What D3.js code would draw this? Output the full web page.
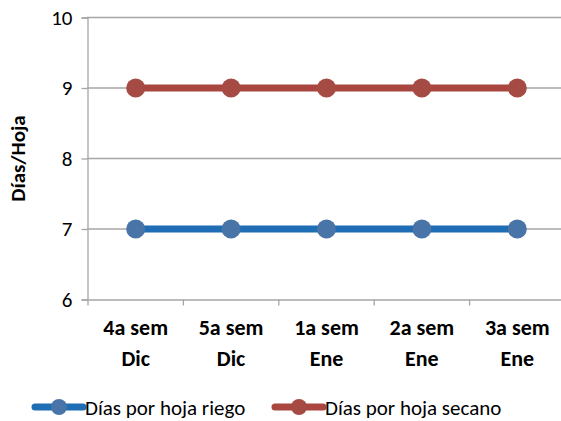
<!DOCTYPE html>
<html><head><meta charset="utf-8">
<script src="https://cdn.jsdelivr.net/npm/d3@7/dist/d3.min.js"></script>
<style>
html,body{margin:0;padding:0;background:#fff;overflow:hidden}
svg{display:block;font-family:Carlito,Calibri,Lato,sans-serif}
</style></head><body>
<svg id="c" width="561" height="421"></svg>
<script>
const categories = [["4a sem","Dic"],["5a sem","Dic"],["1a sem","Ene"],["2a sem","Ene"],["3a sem","Ene"]];
const riego = [7,7,7,7,7];
const secano = [9,9,9,9,9];
const yTicks = [6,7,8,9,10];
const seriesNames = ["Días por hoja riego","Días por hoja secano"];
const yTitle = "Días/Hoja";

const svg = d3.select("#c");
const keys = categories.map(c => c.join(" "));
const x = d3.scaleBand().domain(keys).range([88, 565]);
const y = d3.scaleLinear().domain([6,10]).range([299.5, 17.5]);
const grid = "#a6a6a6";

// gridlines
svg.append("g").selectAll("line").data(yTicks.filter(t => t > 6)).join("line")
  .attr("x1", 87).attr("x2", 565).attr("y1", d => y(d)).attr("y2", d => y(d))
  .attr("stroke", grid).attr("stroke-width", 1.3);

// y axis
const yAxis = svg.append("g").attr("transform","translate(87.5,0)")
  .call(d3.axisLeft(y).tickValues(yTicks).tickSize(6).tickPadding(9).tickFormat(d3.format("d")));
yAxis.select(".domain").attr("stroke", grid).attr("stroke-width",1.3);
yAxis.selectAll(".tick line").attr("stroke", grid).attr("stroke-width",1.3);
yAxis.selectAll(".tick text").attr("font-size", 21).attr("fill","#000").attr("font-family","Carlito,Calibri,Lato,sans-serif");

// x axis
const xAxis = svg.append("g").attr("transform",`translate(0,${y(6)})`)
  .call(d3.axisBottom(x).tickSize(0).tickFormat(""));
xAxis.select(".domain").attr("stroke", grid).attr("stroke-width",1.3);
xAxis.selectAll(".tick").remove();
// tick marks at band boundaries
const bounds = keys.map(k => x(k)).concat([x.range()[1]]);
svg.append("g").selectAll("line").data(bounds).join("line")
  .attr("x1", d => d).attr("x2", d => d).attr("y1", y(6)).attr("y2", y(6)+6)
  .attr("stroke", grid).attr("stroke-width",1.3);

// category labels
const cl = svg.append("g").selectAll("text").data(categories).join("text")
  .attr("text-anchor","middle").attr("font-weight","bold").attr("font-size",22)
  .attr("x", (d,i) => x(keys[i]) + x.bandwidth()/2);
cl.append("tspan").attr("x", (d,i) => x(keys[i]) + x.bandwidth()/2).attr("y", 335).text(d => d[0]);
cl.append("tspan").attr("x", (d,i) => x(keys[i]) + x.bandwidth()/2).attr("y", 366).text(d => d[1]);

// y title
svg.append("text").attr("transform",`translate(25,${(y(6)+y(10))/2}) rotate(-90)`)
  .attr("text-anchor","middle").attr("font-weight","bold").attr("font-size",21).text(yTitle);

const series = [
  {name: seriesNames[0], values: riego, line:"#1f6db4", marker:"#4874a8"},
  {name: seriesNames[1], values: secano, line:"#a9463f", marker:"#a64a44"}
];
const lineGen = d3.line().x((d,i) => x(keys[i]) + x.bandwidth()/2).y(d => y(d));
series.forEach(s => {
  svg.append("path").datum(s.values).attr("d", lineGen).attr("fill","none")
    .attr("stroke", s.line).attr("stroke-width", 7);
  svg.append("g").selectAll("circle").data(s.values).join("circle")
    .attr("cx",(d,i) => x(keys[i]) + x.bandwidth()/2).attr("cy", d => y(d)).attr("r", 9.5)
    .attr("fill", s.marker);
});

// legend
const legX = [35, 275];
series.forEach((s,i) => {
  const g = svg.append("g").attr("transform",`translate(${legX[i]},407)`);
  g.append("line").attr("x1",0).attr("x2",48).attr("y1",0).attr("y2",0)
    .attr("stroke", s.line).attr("stroke-width",7).attr("stroke-linecap","round");
  g.append("circle").attr("cx",24).attr("cy",0).attr("r",8).attr("fill", s.marker);
  g.append("text").attr("x",50).attr("y",8).attr("font-size",21).text(s.name);
});
</script>
</body></html>
